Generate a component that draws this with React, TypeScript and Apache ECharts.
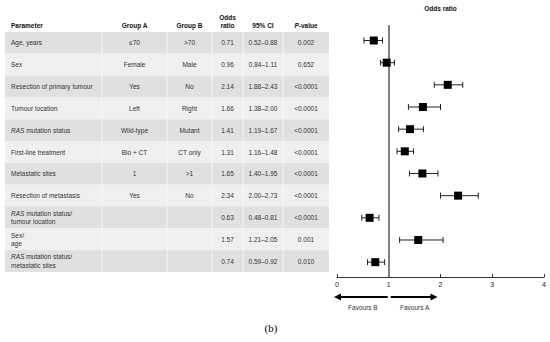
import React, { useEffect, useRef } from 'react';
import * as echarts from 'echarts';

// ---------- data ----------
const parameters = [
  'Age, years',
  'Sex',
  'Resection of primary tumour',
  'Tumour location',
  'RAS mutation status',
  'First-line treatment',
  'Metastatic sites',
  'Resection of metastasis',
  'RAS mutation status/\ntumour location',
  'Sex/\nage',
  'RAS mutation status/\nmetastatic sites',
];
const groupA = ['≤70', 'Female', 'Yes', 'Left', 'Wild-type', 'Bio + CT', '1', 'Yes', '', '', ''];
const groupB = ['>70', 'Male', 'No', 'Right', 'Mutant', 'CT only', '>1', 'No', '', '', ''];
const oddsRatio = [0.71, 0.96, 2.14, 1.66, 1.41, 1.31, 1.65, 2.34, 0.63, 1.57, 0.74];
const ciLow = [0.52, 0.84, 1.88, 1.38, 1.19, 1.16, 1.40, 2.00, 0.48, 1.21, 0.59];
const ciHigh = [0.88, 1.11, 2.43, 2.00, 1.67, 1.48, 1.95, 2.73, 0.81, 2.05, 0.92];
const pValues = ['0.002', '0.652', '<0.0001', '<0.0001', '<0.0001', '<0.0001', '<0.0001', '<0.0001', '<0.0001', '0.001', '0.010'];
const headers = ['Parameter', 'Group A', 'Group B', 'Odds\nratio', '95% CI', '{i|P}-value'];
const favourLabels = ['Favours B', 'Favours A'];
const plotTitle = 'Odds ratio';

// ---------- layout ----------
const FONT = '"Liberation Sans", Arial, Helvetica, sans-serif';
const TABLE_LEFT = 5;
const TABLE_W = 324;
const COLS = [0, 97, 162, 207, 238, 278, 324];
const FS = 6.5;
const TXT = '#333333';

const richItalic = {
  i: { fontStyle: 'italic', fontSize: FS, fontFamily: FONT, fill: TXT, color: TXT },
};

function fmtParam(s: string) {
  return s.replace(/^RAS/, '{i|RAS}');
}

export default function App() {
  const ref = useRef<HTMLDivElement>(null);

  useEffect(() => {
    if (!ref.current) return;
    const chart = echarts.init(ref.current, undefined, { renderer: 'svg' });

    const tableRender = (params: any, api: any) => {
      const i = params.dataIndex;
      const c = api.coord([0, i]);
      const h = api.size([0, 1])[1];
      const px = (v: number) => api.coord([v, i])[0];
      const yTop = c[1] - h / 2;
      const yc = c[1];
      const children: any[] = [];
      children.push({
        type: 'rect',
        shape: { x: px(0), y: yTop, width: px(TABLE_W) - px(0), height: h },
        style: { fill: i % 2 === 0 ? '#e0e0e0' : '#efefef' },
      });
      for (let k = 1; k < COLS.length - 1; k++) {
        children.push({
          type: 'line',
          shape: { x1: px(COLS[k]), y1: yTop, x2: px(COLS[k]), y2: yTop + h },
          style: { stroke: '#f7f7f7', lineWidth: 1 },
        });
      }
      const cells = [
        groupA[i],
        groupB[i],
        oddsRatio[i].toFixed(2),
        ciLow[i].toFixed(2) + '–' + ciHigh[i].toFixed(2),
        pValues[i],
      ];
      children.push({
        type: 'text',
        x: px(COLS[0]) + 6,
        y: yc,
        style: {
          text: fmtParam(parameters[i]),
          fontSize: FS,
          fontFamily: FONT,
          fill: TXT,
          align: 'left',
          verticalAlign: 'middle',
          lineHeight: 8.5,
          rich: richItalic,
        },
      });
      cells.forEach((t, k) => {
        if (!t) return;
        children.push({
          type: 'text',
          x: px((COLS[k + 1] + COLS[k + 2]) / 2),
          y: yc,
          style: {
            text: t,
            fontSize: FS,
            fontFamily: FONT,
            fill: TXT,
            align: 'center',
            verticalAlign: 'middle',
          },
        });
      });
      return { type: 'group', children };
    };

    const errRender = (params: any, api: any) => {
      const row = api.value(0);
      const lo = api.coord([api.value(1), row]);
      const hi = api.coord([api.value(2), row]);
      const cap = 3;
      const st = { stroke: '#222', lineWidth: 1 };
      return {
        type: 'group',
        children: [
          { type: 'line', shape: { x1: lo[0], y1: lo[1], x2: hi[0], y2: hi[1] }, style: st },
          { type: 'line', shape: { x1: lo[0], y1: lo[1] - cap, x2: lo[0], y2: lo[1] + cap }, style: st },
          { type: 'line', shape: { x1: hi[0], y1: hi[1] - cap, x2: hi[0], y2: hi[1] + cap }, style: st },
        ],
      };
    };

    chart.setOption({
      animation: false,
      textStyle: { fontFamily: FONT },
      grid: [
        { left: TABLE_LEFT, top: 32, width: TABLE_W, height: 240, containLabel: false },
        { left: 337, right: 6, top: 25, bottom: 65, containLabel: false },
      ],
      xAxis: [
        { gridIndex: 0, type: 'value', min: 0, max: TABLE_W, show: false },
        {
          gridIndex: 1,
          type: 'value',
          min: 0,
          max: 4,
          interval: 1,
          axisLine: { show: true, lineStyle: { color: '#333', width: 1 } },
          axisTick: { show: true, inside: true, length: 3, lineStyle: { color: '#333' } },
          axisLabel: { fontSize: 7, color: '#222', margin: 4, fontFamily: FONT },
          splitLine: { show: false },
        },
      ],
      yAxis: [
        {
          gridIndex: 0,
          type: 'category',
          inverse: true,
          data: parameters,
          show: false,
        },
        {
          gridIndex: 1,
          type: 'value',
          inverse: true,
          min: 0.3,
          max: 11.67,
          show: false,
        },
      ],
      series: [
        {
          type: 'custom',
          xAxisIndex: 0,
          yAxisIndex: 0,
          renderItem: tableRender,
          data: parameters.map((_, i) => [0, i]),
          silent: true,
          z: 1,
        },
        {
          type: 'custom',
          xAxisIndex: 1,
          yAxisIndex: 1,
          renderItem: errRender,
          data: oddsRatio.map((_, i) => [i + 1, ciLow[i], ciHigh[i]]),
          silent: true,
          z: 3,
        },
        {
          type: 'scatter',
          xAxisIndex: 1,
          yAxisIndex: 1,
          symbol: 'rect',
          symbolSize: 8,
          itemStyle: { color: '#000', opacity: 1 },
          data: oddsRatio.map((v, i) => [v, i + 1]),
          silent: true,
          z: 4,
          markLine: {
            silent: true,
            symbol: 'none',
            label: { show: false },
            lineStyle: { color: '#808080', width: 2, type: 'solid' },
            data: [{ xAxis: 1 }],
            z: 2,
          },
        },
      ],
    });

    const xp = (v: number) => chart.convertToPixel({ xAxisIndex: 1 }, v) as number;
    const x0 = xp(0);
    const x1 = xp(1);
    const x2 = xp(2);
    const ay = 297;
    const colCenter = (k: number) => TABLE_LEFT + (COLS[k] + COLS[k + 1]) / 2;

    const headerEls: any[] = headers.map((h, k) => ({
      type: 'text',
      x: k === 0 ? TABLE_LEFT + 6 : colCenter(k),
      y: k === 3 ? 21 : 25,
      style: {
        text: h,
        fontSize: FS,
        fontWeight: 'bold',
        fontFamily: FONT,
        fill: '#111',
        align: k === 0 ? 'left' : 'center',
        verticalAlign: 'middle',
        lineHeight: 8,
        rich: {
          i: { fontStyle: 'italic', fontWeight: 'bold', fontSize: FS, fontFamily: FONT, fill: '#111' },
        },
      },
    }));

    chart.setOption({
      graphic: {
        elements: [
          ...headerEls,
          {
            type: 'text',
            x: xp(2),
            y: 8,
            style: {
              text: plotTitle,
              fontSize: FS,
              fontWeight: 'bold',
              fontFamily: FONT,
              fill: '#111',
              align: 'center',
              verticalAlign: 'middle',
            },
          },
          {
            type: 'line',
            shape: { x1: x1 - 1, y1: ay, x2: x0 - 1, y2: ay },
            style: { stroke: '#000', lineWidth: 2 },
          },
          {
            type: 'polygon',
            shape: { points: [[x0 - 3, ay], [x0 + 4, ay - 3.5], [x0 + 4, ay + 3.5]] },
            style: { fill: '#000' },
          },
          {
            type: 'line',
            shape: { x1: x1 + 2, y1: ay, x2: x2 - 5, y2: ay },
            style: { stroke: '#000', lineWidth: 2 },
          },
          {
            type: 'polygon',
            shape: { points: [[x2 - 3, ay], [x2 - 10, ay - 3.5], [x2 - 10, ay + 3.5]] },
            style: { fill: '#000' },
          },
          {
            type: 'text',
            x: xp(0.5),
            y: 307,
            style: { text: favourLabels[0], fontSize: FS, fontFamily: FONT, fill: TXT, align: 'center', verticalAlign: 'middle' },
          },
          {
            type: 'text',
            x: xp(1.5),
            y: 307,
            style: { text: favourLabels[1], fontSize: FS, fontFamily: FONT, fill: TXT, align: 'center', verticalAlign: 'middle' },
          },
          {
            type: 'text',
            x: 271,
            y: 328,
            style: {
              text: '(b)',
              fontSize: 11,
              fontFamily: '"Liberation Serif", "DejaVu Serif", serif',
              fill: '#000',
              align: 'center',
              verticalAlign: 'middle',
            },
          },
        ],
      },
    });

    return () => chart.dispose();
  }, []);

  return (
    <div
      ref={ref}
      style={{ width: 550, height: 342, position: 'absolute', left: 0, top: 0, background: '#fff' }}
    />
  );
}
